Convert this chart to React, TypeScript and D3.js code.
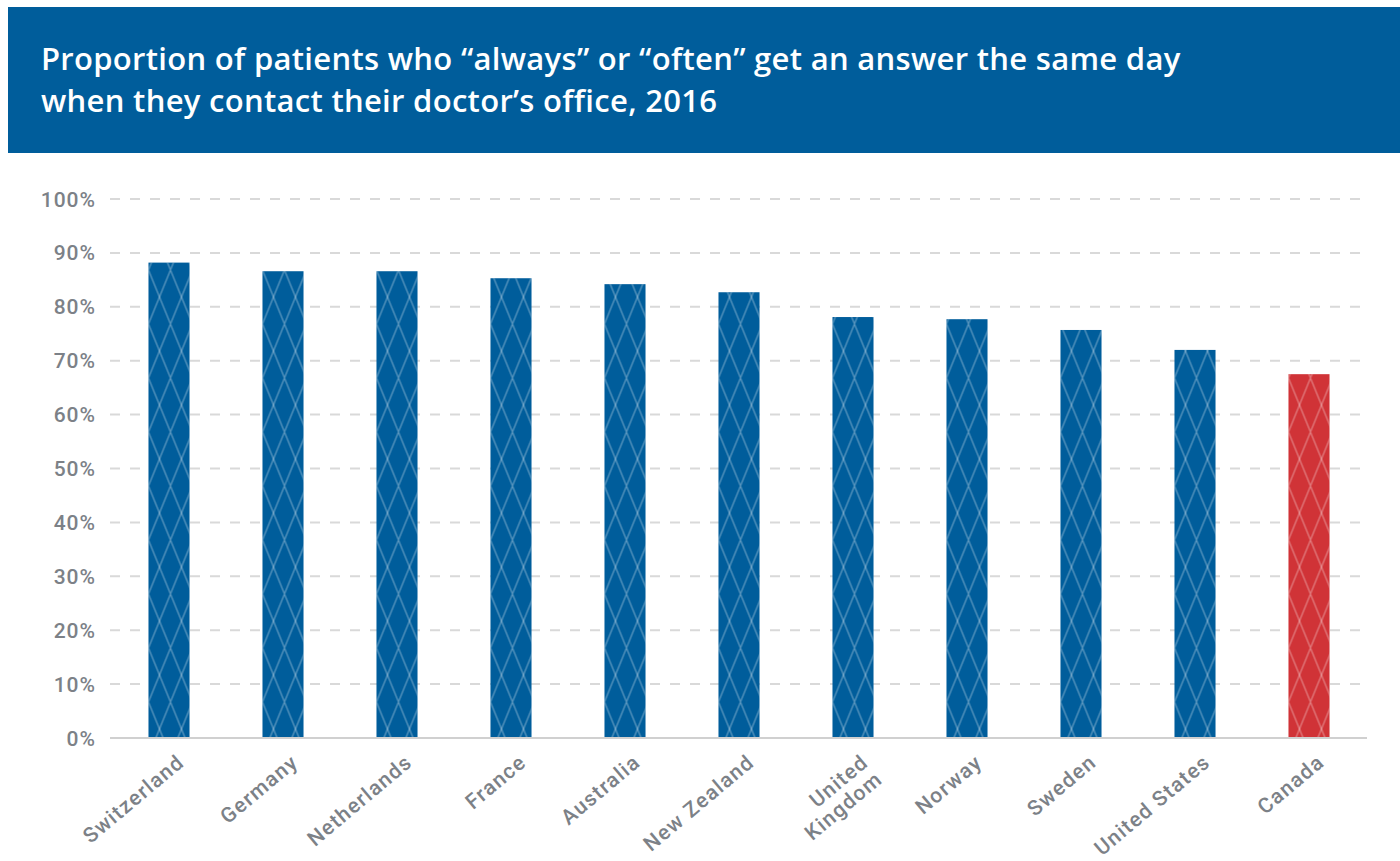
import React from "react";
import * as d3 from "d3";

const countries = ["Switzerland", "Germany", "Netherlands", "France", "Australia", "New Zealand", "United Kingdom", "Norway", "Sweden", "United States", "Canada"];
const labelLines = [["Switzerland"], ["Germany"], ["Netherlands"], ["France"], ["Australia"], ["New Zealand"], ["United", "Kingdom"], ["Norway"], ["Sweden"], ["United States"], ["Canada"]];
const values = [88.2, 86.6, 86.6, 85.3, 84.2, 82.7, 78.1, 77.7, 75.7, 72.0, 67.5];
const highlight = ["Canada"];
const yTicks = [0, 10, 20, 30, 40, 50, 60, 70, 80, 90, 100];
const titleLines = [
  "Proportion of patients who \u201calways\u201d or \u201coften\u201d get an answer the same day",
  "when they contact their doctor\u2019s office, 2016",
];

const W = 1400;
const H = 861;
const BLUE = "#005d9b";
const RED = "#d03337";
const GRAY = "#7c8187";

export default function App() {
  const x = d3.scaleBand<string>().domain(countries).range([112, 1366]).paddingInner(0.64).paddingOuter(0.32);
  const y = d3.scaleLinear().domain([0, 100]).range([738, 199]);
  const font = "Roboto, 'DejaVu Sans', sans-serif";

  return (
    <svg width={W} height={H} style={{ position: "absolute", left: 0, top: 0, background: "#fff" }}>
      <defs>
        <pattern id="lattice" patternUnits="userSpaceOnUse" width={22} height={54} x={0} y={0}>
          <line x1={0} y1={0} x2={22} y2={54} stroke="#ffffff" strokeOpacity={0.35} strokeWidth={1.3} />
          <line x1={22} y1={0} x2={0} y2={54} stroke="#ffffff" strokeOpacity={0.35} strokeWidth={1.3} />
        </pattern>
      </defs>
      <rect x={8} y={7} width={W - 8} height={146} fill={BLUE} />
      {titleLines.map((t, i) => (
        <text key={i} x={41} y={70 + i * 42} fill="#fff" fontFamily="'Open Sans', Lato, sans-serif" fontWeight={600} fontSize={31} letterSpacing={0.3}>
          {t}
        </text>
      ))}
      {yTicks.map((t) => (
        <g key={t}>
          {t > 0 && (
            <line x1={110} x2={1367} y1={y(t)} y2={y(t)} stroke="#d9d9d9" strokeWidth={2} strokeDasharray="10 10" />
          )}
          <text x={96} y={y(t)} dy="0.36em" textAnchor="end" fill={GRAY} fontFamily={font} fontWeight={500} fontSize={21} letterSpacing={1}>
            {t}%
          </text>
        </g>
      ))}
      {countries.map((c, i) => {
        const bx = x(c)!;
        const bw = x.bandwidth();
        const col = highlight.includes(c) ? RED : BLUE;
        return (
          <g key={c}>
            <rect x={bx} y={y(values[i])} width={bw} height={y(0) - y(values[i])} fill={col} />
            <g transform={`translate(${bx},0)`}>
              <rect x={0} y={y(values[i])} width={bw} height={y(0) - y(values[i])} fill="url(#lattice)" />
            </g>
          </g>
        );
      })}
      <line x1={110} x2={1367} y1={y(0)} y2={y(0)} stroke="#d0d0d0" strokeWidth={2} />
      {countries.map((c, i) => {
        const cx = x(c)! + x.bandwidth() / 2;
        return (
          <text key={c} transform={`translate(${cx + 7},${753}) rotate(-40)`} textAnchor="end" fill={GRAY} fontFamily={font} fontWeight={500} fontSize={21} letterSpacing={1.3}>
            {labelLines[i].map((l, j) => (
              <tspan key={j} x={0} dy={j === 0 ? "0.71em" : "1.05em"}>
                {l}
              </tspan>
            ))}
          </text>
        );
      })}
    </svg>
  );
}
